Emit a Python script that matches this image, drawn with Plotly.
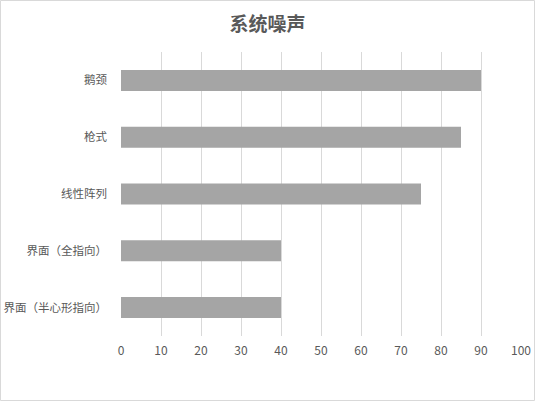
import plotly.graph_objects as go

# data (top to bottom)
categories = ["鹅颈", "枪式", "线性阵列", "界面（全指向）", "界面（半心形指向）"]
values = [90, 85, 75, 40, 40]
x_ticks = list(range(0, 101, 10))

font_family = "Noto Sans CJK SC, Microsoft YaHei, sans-serif"
text_grey = "#595959"

fig = go.Figure()
fig.add_trace(go.Bar(
    y=categories[::-1],
    x=values[::-1],
    orientation="h",
    marker=dict(color="#a5a5a5", line=dict(width=0)),
    width=0.37,
    hoverinfo="x+y",
))

fig.update_layout(
    width=535,
    height=401,
    paper_bgcolor="white",
    plot_bgcolor="white",
    margin=dict(l=121, r=14, t=52, b=65, autoexpand=False),
    showlegend=False,
    font=dict(family=font_family, size=12, color=text_grey),
    title=dict(
        text="<b>系统噪声</b>",
        x=0.5, xanchor="center",
        y=1 - 24 / 401, yanchor="middle",
        font=dict(size=19, color=text_grey, family=font_family),
    ),
    xaxis=dict(
        range=[0, 100],
        tickvals=x_ticks,
        showgrid=True,
        gridcolor="#d9d9d9",
        gridwidth=1,
        zeroline=False,
        showline=False,
        ticks="",
        ticklabelstandoff=6,
        tickfont=dict(size=12, color=text_grey),
        automargin=False,
        fixedrange=True,
    ),
    yaxis=dict(
        showgrid=False,
        zeroline=False,
        showline=False,
        ticks="",
        ticklabelstandoff=13,
        tickfont=dict(size=11.5, color=text_grey),
        automargin=False,
        fixedrange=True,
    ),
    shapes=[dict(
        type="rect", xref="paper", yref="paper",
        x0=-120.5 / 400, x1=413.5 / 400,
        y0=-64.5 / 284, y1=335.5 / 284,
        line=dict(color="#d9d9d9", width=1),
        fillcolor="rgba(0,0,0,0)",
        layer="below",
    )],
)

# the page body has a default 8px margin; drop it so the chart sits at 0,0
fig.write_html(
    "out.html",
    config={"displayModeBar": False},
    post_script="document.body.style.margin='0';",
)
